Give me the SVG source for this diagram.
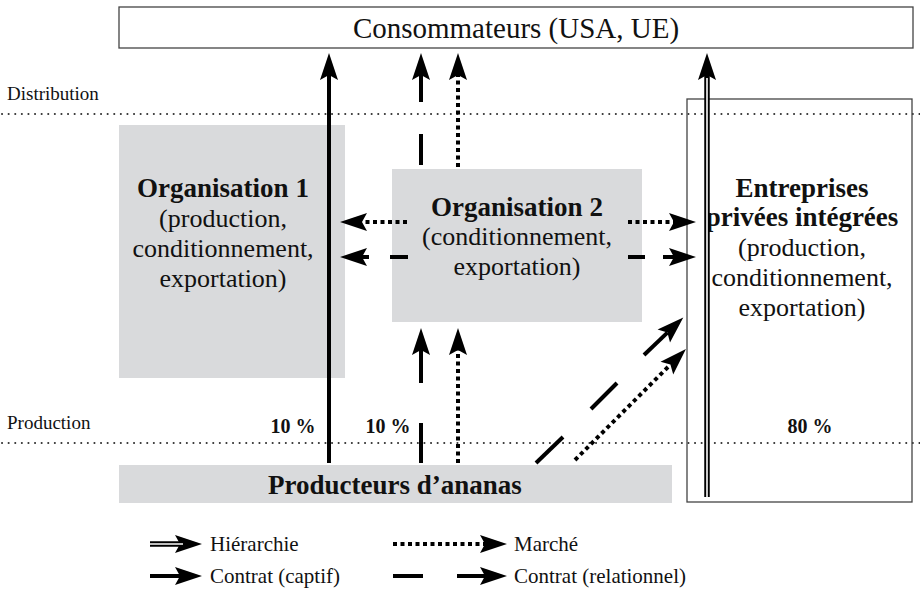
<svg xmlns="http://www.w3.org/2000/svg" width="920" height="591" viewBox="0 0 920 591">
<style>
  text { font-family: "Liberation Serif", "Times New Roman", serif; fill: #111; }
  .t { font-size: 26px; }
  .b { font-size: 27px; font-weight: bold; }
  .s { font-size: 19px; }
  .l { font-size: 21px; }
  .p { font-size: 20px; font-weight: bold; }
  .box { fill: #d9dadc; stroke: none; }
  .frame { fill: none; stroke: #444; stroke-width: 1.3; }
  .level { stroke: #333; stroke-width: 2; stroke-dasharray: 0.1 6.5; stroke-linecap: round; fill: none; }
  .solid { stroke: #000; stroke-width: 4; fill: none; }
  .dot { stroke: #000; stroke-width: 4; stroke-dasharray: 4 3.5; fill: none; }
  .dash { stroke: #000; stroke-width: 4; fill: none; }
  .hier { stroke: #000; stroke-width: 5.5; fill: none; }
  .hierin { stroke: #fff; stroke-width: 1.6; fill: none; }
</style>
<defs>
  <marker id="ah" markerUnits="userSpaceOnUse" markerWidth="32" markerHeight="22" viewBox="-2 -11 32 22" refX="5" refY="0" orient="auto">
    <path d="M0,-9 L27,0 L0,9 L5,0 Z" fill="#000"/>
  </marker>
</defs>

<g id="levels">
  <line class="level" x1="2" y1="114" x2="920" y2="114"/>
  <line class="level" x1="2" y1="443" x2="920" y2="443"/>
  <text class="s" x="7" y="100">Distribution</text>
  <text class="s" x="7" y="429">Production</text>
</g>

<g id="consommateurs">
  <rect x="119" y="7" width="794" height="41" fill="#fff" stroke="#444" stroke-width="1.3"/>
  <text x="516" y="38" font-size="29" text-anchor="middle">Consommateurs (USA, UE)</text>
</g>

<g id="organisation1">
  <rect class="box" x="119" y="125" width="226" height="253"/>
  <text class="b" x="223" y="197" text-anchor="middle">Organisation 1</text>
  <text class="t" x="223" y="227" text-anchor="middle">(production,</text>
  <text class="t" x="223" y="257" text-anchor="middle">conditionnement,</text>
  <text class="t" x="223" y="287" text-anchor="middle">exportation)</text>
</g>

<g id="organisation2">
  <rect class="box" x="392" y="169" width="250" height="153"/>
  <text class="b" x="517" y="216" text-anchor="middle">Organisation 2</text>
  <text class="t" x="517" y="245" text-anchor="middle">(conditionnement,</text>
  <text class="t" x="517" y="275" text-anchor="middle">exportation)</text>
</g>

<g id="entreprises">
  <rect class="frame" x="687" y="99" width="225" height="403"/>
  <text class="b" x="802" y="197" text-anchor="middle">Entreprises</text>
  <text class="b" x="802" y="226" text-anchor="middle">privées intégrées</text>
  <text class="t" x="802" y="256" text-anchor="middle">(production,</text>
  <text class="t" x="802" y="286" text-anchor="middle">conditionnement,</text>
  <text class="t" x="802" y="316" text-anchor="middle">exportation)</text>
  <text class="p" x="810" y="433" text-anchor="middle">80 %</text>
</g>

<g id="producteurs">
  <rect class="box" x="119" y="465" width="553" height="38"/>
  <text class="b" x="395" y="494" text-anchor="middle">Producteurs d’ananas</text>
</g>

<g id="shares">
  <text class="p" x="293" y="433" text-anchor="middle">10 %</text>
  <text class="p" x="388" y="433" text-anchor="middle">10 %</text>
</g>

<g id="connectors">
  <!-- Organisation 1 to consumers: captive contract -->
  <line class="solid" x1="329" y1="463" x2="329" y2="75" marker-end="url(#ah)"/>
  <!-- Organisation 2 to consumers: relational contract -->
  <line class="dash" x1="421" y1="165" x2="421" y2="134"/>
  <line class="dash" x1="421" y1="102" x2="421" y2="75" marker-end="url(#ah)"/>
  <!-- Organisation 2 to consumers: market -->
  <line class="dot" x1="458" y1="167" x2="458" y2="75" marker-end="url(#ah)"/>
  <!-- Hierarchy: enterprises to consumers -->
  <line class="hier" x1="707" y1="497" x2="707" y2="75" marker-end="url(#ah)"/>
  <line class="hierin" x1="707" y1="497" x2="707" y2="78"/>
  <!-- Producers to Organisation 2 -->
  <line class="dash" x1="421" y1="463" x2="421" y2="423"/>
  <line class="dash" x1="421" y1="383" x2="421" y2="350" marker-end="url(#ah)"/>
  <line class="dot" x1="458" y1="463" x2="458" y2="350" marker-end="url(#ah)"/>
  <!-- Organisation 2 to Organisation 1 -->
  <line class="dot" x1="407" y1="222" x2="362" y2="222" marker-end="url(#ah)"/>
  <line class="dash" x1="408" y1="257" x2="390" y2="257"/>
  <line class="dash" x1="369" y1="257" x2="362" y2="257" marker-end="url(#ah)"/>
  <!-- Organisation 2 to enterprises -->
  <line class="dot" x1="628" y1="222" x2="674" y2="222" marker-end="url(#ah)"/>
  <line class="dash" x1="628" y1="257" x2="645" y2="257"/>
  <line class="dash" x1="663" y1="257" x2="674" y2="257" marker-end="url(#ah)"/>
  <!-- Producers to enterprises -->
  <line class="dash" x1="536" y1="463" x2="563" y2="437"/>
  <line class="dash" x1="591" y1="409" x2="617" y2="383"/>
  <line class="dash" x1="644" y1="355" x2="667.4" y2="332.6" marker-end="url(#ah)"/>
  <line class="dot" x1="575" y1="460" x2="670.4" y2="364.6" marker-end="url(#ah)"/>
</g>

<g id="legend">
  <line class="hier" x1="150" y1="544" x2="180" y2="544" marker-end="url(#ah)"/>
  <line class="hierin" x1="150" y1="544" x2="183" y2="544"/>
  <text class="l" x="210" y="551">Hiérarchie</text>
  <line class="solid" x1="150" y1="576" x2="180" y2="576" marker-end="url(#ah)"/>
  <text class="l" x="210" y="583">Contrat (captif)</text>
  <line class="dot" x1="393" y1="544" x2="485" y2="544" marker-end="url(#ah)"/>
  <text class="l" x="514" y="551">Marché</text>
  <line class="dash" x1="393" y1="576" x2="423" y2="576"/>
  <line class="dash" x1="457" y1="576" x2="485" y2="576" marker-end="url(#ah)"/>
  <text class="l" x="514" y="583">Contrat (relationnel)</text>
</g>
</svg>
